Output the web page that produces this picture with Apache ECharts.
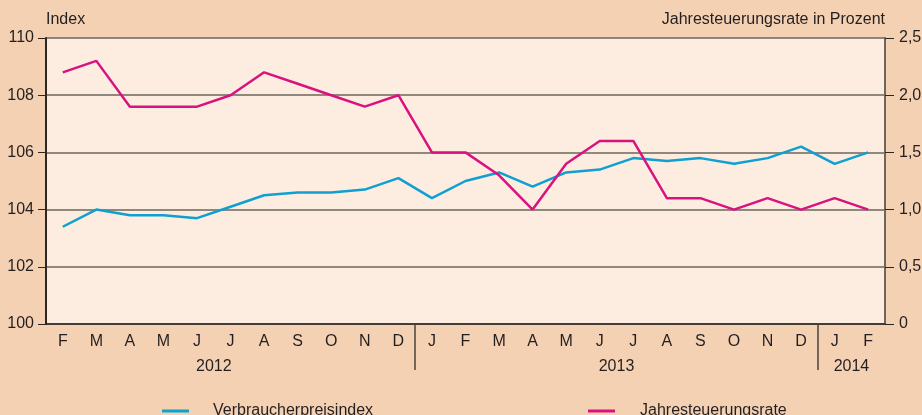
<!DOCTYPE html>
<html><head><meta charset="utf-8">
<script src="https://cdn.jsdelivr.net/npm/echarts@6/dist/echarts.min.js"></script>
<style>html,body{margin:0;padding:0;background:#f5d1b3}#c{width:922px;height:415px}</style>
</head><body><div id="c"></div>
<script>
const months = ['F','M','A','M','J','J','A','S','O','N','D','J','F','M','A','M','J','J','A','S','O','N','D','J','F'];
const years = ['2012','2013','2014'];
const yearLabelPos = [5, 17, 24];
const yearSeparators = [11, 23];
const cpi = [103.4,104.0,103.8,103.8,103.7,104.1,104.5,104.6,104.6,104.7,105.1,104.4,105.0,105.3,104.8,105.3,105.4,105.8,105.7,105.8,105.6,105.8,106.2,105.6,106.0];
const rate = [2.2,2.3,1.9,1.9,1.9,2.0,2.2,2.1,2.0,1.9,2.0,1.5,1.5,1.3,1.0,1.4,1.6,1.6,1.1,1.1,1.0,1.1,1.0,1.1,1.0];
const leftTicks = [100,102,104,106,108,110];
const rightTicks = [0,0.5,1.0,1.5,2.0,2.5];

const font = 'Liberation Sans, Arial, sans-serif';
const txt = '#231f20';
const fs = 16;
const chart = echarts.init(document.getElementById('c'));
chart.setOption({
  backgroundColor: '#f5d1b3',
  animation: false,
  textStyle: {fontFamily: font},
  grid: {left: 46, right: 37, top: 38, bottom: 91, show: true, backgroundColor: '#fcede0', borderWidth: 0,
         containLabel: false, outerBoundsMode: 'none'},
  legend: [
    {data: ['Verbraucherpreisindex'], left: 162, top: 403, padding: 0, itemWidth: 27, itemHeight: 3, icon: 'rect',
     textStyle: {fontSize: fs, color: txt, fontFamily: font, padding: [0,0,0,19]}},
    {data: ['Jahresteuerungsrate'], left: 588, top: 403, padding: 0, itemWidth: 27, itemHeight: 3, icon: 'rect',
     textStyle: {fontSize: fs, color: txt, fontFamily: font, padding: [0,0,0,20]}}
  ],
  xAxis: [
    {type: 'category', data: months, boundaryGap: true,
     axisLine: {lineStyle: {color: '#2b2622', width: 1.5}},
     axisTick: {inside: true, length: 3, lineStyle: {color: '#6e665c'}},
     axisLabel: {color: txt, fontSize: fs, margin: 10, interval: 0, fontFamily: font},
     splitLine: {show: false}},
    {type: 'value', min: 0, max: 25, position: 'bottom', offset: 0,
     axisLine: {show: false},
     axisTick: {show: true, customValues: yearSeparators, length: 46, lineStyle: {color: '#4a443e', width: 1.5}},
     axisLabel: {show: true, customValues: yearLabelPos, margin: 35, color: txt, fontSize: fs, fontFamily: font,
       formatter: function(v){ const i = yearLabelPos.indexOf(v); return i >= 0 ? years[i] : ''; }},
     splitLine: {show: false}}
  ],
  yAxis: [
    {type: 'value', min: leftTicks[0], max: leftTicks[leftTicks.length-1], interval: 2,
     name: 'Index', nameLocation: 'end', nameGap: 10,
     nameTextStyle: {color: txt, fontSize: fs, align: 'left', fontFamily: font},
     axisLine: {show: true, lineStyle: {color: '#2b2622', width: 2}},
     axisTick: {show: true, length: 8, lineStyle: {color: '#2b2622'}},
     axisLabel: {color: txt, fontSize: fs, margin: 12, fontFamily: font},
     splitLine: {show: true, lineStyle: {color: '#6e665c', width: 1.5}}},
    {type: 'value', min: rightTicks[0], max: rightTicks[rightTicks.length-1], interval: 0.5, position: 'right',
     name: 'Jahresteuerungsrate in Prozent', nameLocation: 'end', nameGap: 10,
     nameTextStyle: {color: txt, fontSize: fs, align: 'right', fontFamily: font},
     axisLine: {show: true, lineStyle: {color: '#6e665c', width: 2}},
     axisTick: {show: true, length: 9, lineStyle: {color: '#2b2622'}},
     axisLabel: {color: txt, fontSize: fs, margin: 14, fontFamily: font,
       formatter: function(v){ return v === 0 ? '0' : v.toFixed(1).replace('.', ','); }},
     splitLine: {show: false}}
  ],
  series: [
    {name: 'Verbraucherpreisindex', type: 'line', data: cpi, xAxisIndex: 0, yAxisIndex: 0,
     symbol: 'none', lineStyle: {color: '#0f9fd0', width: 2.5}, itemStyle: {color: '#0f9fd0'}, z: 3},
    {name: 'Jahresteuerungsrate', type: 'line', data: rate, xAxisIndex: 0, yAxisIndex: 1,
     symbol: 'none', lineStyle: {color: '#d9127f', width: 2.5}, itemStyle: {color: '#d9127f'}, z: 4}
  ]
});
</script></body></html>
